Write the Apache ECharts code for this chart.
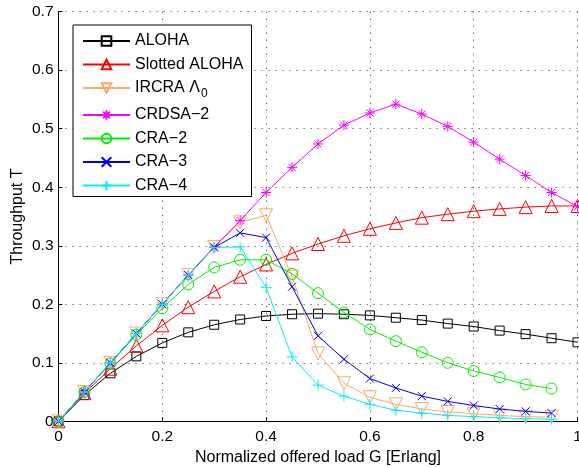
<!DOCTYPE html>
<html>
<head>
<meta charset="utf-8">
<script src="https://cdn.jsdelivr.net/npm/echarts@6/dist/echarts.min.js"></script>
<style>
html,body{margin:0;padding:0;background:#fff;}
#chart{width:579px;height:467px;}
</style>
</head>
<body>
<div id="chart"></div>
<script>
// ---- data ----
var loadG = [0, 0.05, 0.1, 0.15, 0.2, 0.25, 0.3, 0.35, 0.4, 0.45, 0.5, 0.55, 0.6, 0.65, 0.7, 0.75, 0.8, 0.85, 0.9, 0.95, 1.0];
var aloha = [0, 0.045, 0.082, 0.111, 0.134, 0.152, 0.165, 0.174, 0.180, 0.183, 0.184, 0.183, 0.181, 0.177, 0.173, 0.167, 0.162, 0.155, 0.149, 0.142, 0.135];
var slottedAloha = [0, 0.048, 0.090, 0.129, 0.164, 0.195, 0.222, 0.247, 0.268, 0.287, 0.303, 0.317, 0.329, 0.339, 0.348, 0.354, 0.359, 0.363, 0.366, 0.368, 0.368];
var ircra = [0, 0.05, 0.1, 0.15, 0.2, 0.25, 0.298, 0.340, 0.352, 0.247, 0.116, 0.065, 0.041, 0.029, 0.021, 0.016, 0.013, 0.010, 0.008, 0.007];
var crdsa2 = [0, 0.05, 0.1, 0.15, 0.2, 0.25, 0.298, 0.343, 0.391, 0.434, 0.474, 0.506, 0.527, 0.542, 0.525, 0.504, 0.477, 0.448, 0.420, 0.391, 0.367];
var cra2 = [0, 0.05, 0.099, 0.148, 0.193, 0.234, 0.263, 0.276, 0.276, 0.252, 0.219, 0.186, 0.157, 0.137, 0.118, 0.100, 0.086, 0.075, 0.063, 0.056];
var cra3 = [0, 0.05, 0.1, 0.15, 0.2, 0.25, 0.297, 0.322, 0.314, 0.230, 0.146, 0.106, 0.073, 0.057, 0.043, 0.034, 0.027, 0.021, 0.017, 0.014];
var cra4 = [0, 0.05, 0.1, 0.15, 0.2, 0.25, 0.297, 0.298, 0.229, 0.110, 0.062, 0.043, 0.029, 0.019, 0.014, 0.010, 0.008, 0.006, 0.0045, 0.0035];
var xTicks = ['0', '0.2', '0.4', '0.6', '0.8', '1'];
var yTicks = ['0', '0.1', '0.2', '0.3', '0.4', '0.5', '0.6', '0.7'];
var seriesNames = ['ALOHA', 'Slotted ALOHA', 'IRCRA Λ0', 'CRDSA−2', 'CRA−2', 'CRA−3', 'CRA−4'];

// ---- styles ----
var FONT = '"Liberation Sans", Arial, Helvetica, sans-serif';
var SYM = {
  square: 'rect',
  up: 'path://M5,0L10,8.66L0,8.66Z',
  down: 'path://M0,0L10,0L5,8.66Z',
  star: 'path://M5,0L5,10M0,5L10,5M1.46,1.46L8.54,8.54M8.54,1.46L1.46,8.54',
  circle: 'circle',
  cross: 'path://M0,0L10,10M10,0L0,10',
  plus: 'path://M5,0L5,10M0,5L10,5'
};
var styles = [
  {color: '#000000', symbol: SYM.square, size: 9},
  {color: '#ff0000', symbol: SYM.up, size: 13},
  {color: '#ffa766', symbol: SYM.down, size: 13},
  {color: '#ff00ff', symbol: SYM.star, size: 10},
  {color: '#00ee00', symbol: SYM.circle, size: 11},
  {color: '#0000ee', symbol: SYM.cross, size: 8},
  {color: '#00eeff', symbol: SYM.plus, size: 11}
];
var values = [aloha, slottedAloha, ircra, crdsa2, cra2, cra3, cra4];

function pairs(arr) {
  return arr.map(function (v, i) { return [loadG[i], v]; });
}

var series = values.map(function (arr, k) {
  var s = styles[k];
  return {
    name: seriesNames[k],
    type: 'line',
    data: pairs(arr),
    symbol: s.symbol,
    symbolSize: s.size,
    showAllSymbol: true,
    lineStyle: {color: s.color, width: 1},
    itemStyle: {color: 'rgba(255,255,255,0)', borderColor: s.color, borderWidth: 1},
    emphasis: {disabled: true},
    z: 2 + k
  };
});

var chart = echarts.init(document.getElementById('chart'), null, {renderer: 'canvas'});
chart.setOption({
  animation: false,
  backgroundColor: '#fff',
  grid: {left: 58.5, right: 1.5, top: 11.7, bottom: 45.7, containLabel: false, outerBoundsMode: 'none'},
  xAxis: {
    type: 'value', min: 0, max: 1, interval: 0.2,
    name: 'Normalized offered load G [Erlang]',
    nameLocation: 'middle', nameGap: 25,
    nameTextStyle: {fontFamily: FONT, fontSize: 16, color: '#000'},
    axisLine: {show: true, onZero: false, lineStyle: {color: '#000', width: 1}},
    axisTick: {show: true, inside: true, length: 4, lineStyle: {color: '#000'}},
    axisLabel: {margin: 7, fontFamily: FONT, fontSize: 15.5, color: '#000',
      formatter: function (v) { return xTicks[Math.round(v / 0.2)]; }},
    splitLine: {show: true, lineStyle: {color: '#555', width: 1, type: [1.2, 5.8]}}
  },
  yAxis: {
    type: 'value', min: 0, max: 0.7, interval: 0.1,
    name: 'Throughput T',
    nameLocation: 'middle', nameGap: 33, nameMoveOverlap: false,
    nameTextStyle: {fontFamily: FONT, fontSize: 16, color: '#000'},
    axisLine: {show: true, onZero: false, lineStyle: {color: '#000', width: 1}},
    axisTick: {show: true, inside: true, length: 4, lineStyle: {color: '#000'}},
    axisLabel: {margin: 5, fontFamily: FONT, fontSize: 15.5, color: '#000',
      formatter: function (v) { return yTicks[Math.round(v / 0.1)]; }},
    splitLine: {show: true, lineStyle: {color: '#555', width: 1, type: [1.2, 5.8]}}
  },
  legend: {
    orient: 'vertical', left: 73, top: 25,
    padding: [8, 8, 3, 9],
    itemWidth: 47, itemHeight: 12, itemGap: 7.5,
    backgroundColor: '#fff', borderColor: '#000', borderWidth: 1, borderRadius: 0,
    selectedMode: false,
    data: seriesNames,
    textStyle: {fontFamily: FONT, fontSize: 16, color: '#000',
      rich: {sub: {fontFamily: FONT, fontSize: 12, color: '#000', padding: [11, 0, 0, 1]}}},
    formatter: function (name) {
      if (name === 'IRCRA Λ0') { return 'IRCRA Λ{sub|0}'; }
      return name;
    }
  },
  series: series
});
</script>
</body>
</html>
